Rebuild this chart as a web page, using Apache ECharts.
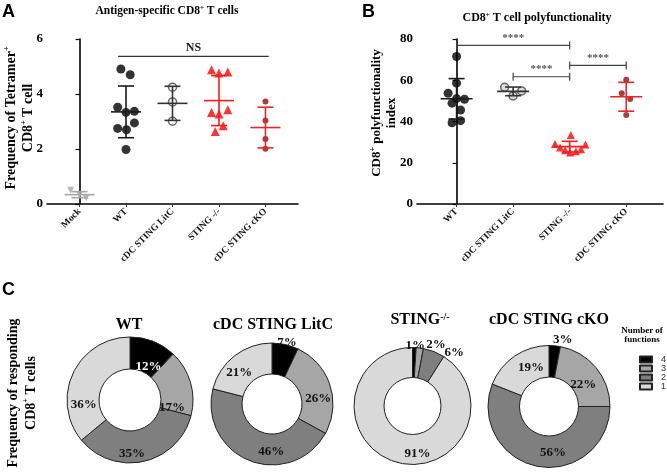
<!DOCTYPE html>
<html><head><meta charset="utf-8">
<script src="https://cdn.jsdelivr.net/npm/echarts@6/dist/echarts.min.js"></script>
<style>html,body{margin:0;padding:0;background:#fff}#c{width:667px;height:472px}</style>
</head><body><div id="c"></div>
<script>
// ---------- Panel A data ----------
const catsA = ['Mock', 'WT', 'cDC STING LitC', 'STING -/-', 'cDC STING cKO'];
const aMock = [0.50, 0.35, 0.23];
const aMockX = [-0.19, 0.0, 0.14];
const aWT = [4.91, 4.70, 3.52, 3.33, 3.37, 2.75, 2.70, 2.95, 1.98];
const aWTX = [-0.11, 0.09, -0.18, 0, 0.18, -0.18, 0.01, 0.18, 0];
const aLitC = [4.25, 3.71, 3.01];
const aLitCX = [0, 0, 0];
const aSTING = [4.88, 4.76, 4.80, 3.33, 3.27, 3.43, 2.85, 2.64];
const aSTINGX = [-0.16, 0, 0.19, -0.16, 0, 0.19, 0.09, -0.08];
const aCKO = [3.73, 3.04, 2.36, 2.01];
const aCKOX = [0, 0, 0, 0];
const aMean = [0.34, 3.35, 3.66, 3.76, 2.78];
const aSD = [0.11, 0.94, 0.62, 0.91, 0.74];
const aNS = [[0.83, 4.07, 5.37]];
const aNSText = ['NS'];

// ---------- Panel B data ----------
const catsB = ['WT', 'cDC STING LitC', 'STING -/-', 'cDC STING cKO'];
const bWT = [71.5, 58.6, 53.7, 51.1, 50.8, 48.9, 45.6, 39.4, 40.4];
const bWTX = [0, 0, -0.15, 0, 0.14, -0.08, 0.07, -0.08, 0.07];
const bLitC = [56.6, 52.4, 54.8];
const bLitCX = [-0.15, 0, 0.15];
const bSTING = [33.4, 29.1, 28.9, 27.4, 26.1, 25.0, 25.6, 26.5];
const bSTINGX = [0.02, -0.26, 0.28, -0.17, -0.08, 0.01, 0.11, 0.20];
const bCKO = [60.2, 53.7, 50.9, 43.2];
const bCKOX = [0, -0.08, 0.07, 0];
const bMean = [51.0, 54.6, 27.8, 52.0];
const bSD = [9.8, 2.1, 2.6, 7.0];
const bSig = [[0, 2, 76.9], [1, 2, 61.7], [2, 3, 67.2]];
const bSigText = ['****', '****', '****'];

// ---------- Panel C data ----------
const pieGroups = ['WT', 'cDC STING LitC', 'STING-/-', 'cDC STING cKO'];
const funcNames = ['4', '3', '2', '1'];
const pieWT = [12, 17, 35, 36];
const pieLitC = [7, 26, 46, 21];
const pieSTING = [1, 2, 6, 91];
const pieCKO = [3, 22, 56, 19];

// ---------- styles ----------
const SERIF = "'Liberation Serif','Times New Roman',serif";
const SANS = "'Liberation Sans',Arial,sans-serif";
const funcColors = ['#000000', '#a6a6a6', '#7f7f7f', '#d9d9d9'];
const errColA = ['#a6a6a6', '#1a1a1a', '#333333', '#ff1a1a', '#e8262a'];
const errColB = ['#1a1a1a', '#333333', '#ff1a1a', '#e8262a'];

const rich = (size) => ({
  n: {fontFamily: SERIF, fontWeight: 'bold', fontSize: size, color: '#000'},
  s: {fontFamily: SERIF, fontWeight: 'bold', fontSize: Math.round(size * 0.6), color: '#000', verticalAlign: 'top'}
});

function pts(vals, xs, g) { return vals.map((v, i) => [g + xs[i], v]); }

function errSeries(means, sds, colors, axisIdx, halfMean, halfCap) {
  return {
    type: 'custom', xAxisIndex: axisIdx, yAxisIndex: axisIdx, z: 5,
    data: means.map((m, i) => [i, m, sds[i]]),
    renderItem: function (params, api) {
      const x = api.value(0), m = api.value(1), s = api.value(2);
      const c = api.coord([x, m]), t = api.coord([x, m + s]), b = api.coord([x, m - s]);
      const st = {stroke: colors[params.dataIndex], lineWidth: 1.6};
      return {type: 'group', children: [
        {type: 'line', shape: {x1: c[0] - halfMean, y1: c[1], x2: c[0] + halfMean, y2: c[1]}, style: st},
        {type: 'line', shape: {x1: c[0], y1: t[1], x2: c[0], y2: b[1]}, style: st},
        {type: 'line', shape: {x1: c[0] - halfCap, y1: t[1], x2: c[0] + halfCap, y2: t[1]}, style: st},
        {type: 'line', shape: {x1: c[0] - halfCap, y1: b[1], x2: c[0] + halfCap, y2: b[1]}, style: st}
      ]};
    }
  };
}

function sigSeries(items, texts, axisIdx, tickLen, color, textColor, fontSize) {
  return {
    type: 'custom', xAxisIndex: axisIdx, yAxisIndex: axisIdx, z: 6,
    data: items,
    renderItem: function (params, api) {
      const p1 = api.coord([api.value(0), api.value(2)]);
      const p2 = api.coord([api.value(1), api.value(2)]);
      const st = {stroke: color, lineWidth: 1.2};
      const ch = [
        {type: 'line', shape: {x1: p1[0], y1: p1[1], x2: p2[0], y2: p2[1]}, style: st},
        {type: 'text', x: (p1[0] + p2[0]) / 2, y: p1[1] - 2,
          style: {text: texts[params.dataIndex], align: 'center', verticalAlign: 'bottom',
            fill: textColor, fontFamily: SERIF, fontWeight: 'bold', fontSize: fontSize}}
      ];
      if (tickLen) {
        ch.push({type: 'line', shape: {x1: p1[0], y1: p1[1] - tickLen, x2: p1[0], y2: p1[1] + tickLen}, style: st});
        ch.push({type: 'line', shape: {x1: p2[0], y1: p2[1] - tickLen, x2: p2[0], y2: p2[1] + tickLen}, style: st});
      }
      return {type: 'group', children: ch};
    }
  };
}

function valXAxis(gi, cats, max) {
  const vals = cats.map((c, i) => i);
  return {
    type: 'value', gridIndex: gi, min: -0.7, max: max,
    splitLine: {show: false},
    axisLine: {lineStyle: {color: '#000', width: 1.6}},
    axisTick: {show: true, customValues: vals, length: 3, lineStyle: {color: '#333'}},
    axisLabel: {customValues: vals, formatter: (v) => cats[Math.round(v)], rotate: 45,
      fontFamily: SERIF, fontWeight: 'bold', fontSize: 9.5, color: '#111', margin: 6}
  };
}
function valYAxis(gi, max, interval) {
  return {
    type: 'value', gridIndex: gi, min: 0, max: max, interval: interval,
    splitLine: {show: false},
    axisLine: {show: true, lineStyle: {color: '#000', width: 1.6}},
    axisTick: {show: true, length: 4, lineStyle: {color: '#000', width: 1.2}},
    axisLabel: {fontFamily: SERIF, fontWeight: 'bold', fontSize: 13, color: '#000', margin: 4}
  };
}

// pie label styling
const pieCenters = [[130, 400], [272, 404], [412.5, 406], [549, 406.5]];
const pieRadii = [[31, 63], [30, 61], [28.5, 58.5], [29.5, 61]];
const pieOutside = [[], [0], [0, 1, 2], [0]];
const pieWhite = [[0], [], [], []];
const pieLabelShift = [
  [[0, 13], [-6, 22], [-9, 5], [-1, 26]],
  [[-9, 2], [0, 10], [17, 3], [-3, 7]],
  [[-9, 2], [6, 1], [9, 5], [18, 3]],
  [[-2, -2], [-3, 9], [13, -1], [9, 1]]
];

function pieSeries(k, values) {
  return {
    type: 'pie', center: pieCenters[k], radius: pieRadii[k], startAngle: 90,
    avoidLabelOverlap: false, animation: false,
    itemStyle: {borderColor: '#222', borderWidth: 1},
    label: {position: 'inside', formatter: '{c}%', fontFamily: SERIF, fontWeight: 'bold', fontSize: 13, color: '#111'},
    labelLine: {show: false},
    labelLayout: function (p) {
      const s = pieLabelShift[k][p.dataIndex];
      return {dx: s[0], dy: s[1], hideOverlap: false};
    },
    data: values.map((v, i) => {
      const d = {name: funcNames[i], value: v, itemStyle: {color: funcColors[i]}};
      if (pieOutside[k].includes(i)) {
        d.label = {position: 'outside', distanceToLabelLine: 0};
        d.labelLine = {show: false, length: 4, length2: 0};
      }
      if (pieWhite[k].includes(i)) d.label = {color: '#fff'};
      return d;
    })
  };
}

function txt(x, y, text, size, extra) {
  return Object.assign({type: 'text', x: x, y: y, style: {
    text: text, align: 'center', verticalAlign: 'middle', fill: '#000',
    fontFamily: SERIF, fontWeight: 'bold', fontSize: size, rich: rich(size)}}, extra || {});
}
function vtxt(x, y, text, size, lh) {
  const r = rich(size); r.n.lineHeight = lh; r.s.lineHeight = lh;
  return {type: 'text', x: x, y: y, rotation: Math.PI / 2, style: {
    text: text, align: 'center', verticalAlign: 'middle', fill: '#000',
    fontFamily: SERIF, fontWeight: 'bold', fontSize: size, lineHeight: lh, rich: r}};
}

const chart = echarts.init(document.getElementById('c'));
chart.setOption({
  animation: false,
  backgroundColor: '#fff',
  grid: [
    {left: 47, top: 39, width: 251, height: 165},
    {left: 417, top: 39, width: 246, height: 165}
  ],
  xAxis: [valXAxis(0, catsA, 4.7), valXAxis(1, catsB, 3.65)],
  yAxis: [valYAxis(0, 6, 2), valYAxis(1, 80, 20)],
  legend: {
    data: funcNames, orient: 'vertical', left: 634, top: 350,
    itemWidth: 12, itemHeight: 6, itemGap: 0, icon: 'rect', selectedMode: false,
    textStyle: {fontFamily: SANS, fontSize: 9, color: '#333', lineHeight: 8, padding: [0, 0, 0, 4]}
  },
  graphic: [
    {type: 'text', x: 2, y: 3, style: {text: 'A', fontFamily: SANS, fontWeight: 'bold', fontSize: 18, fill: '#000'}},
    {type: 'text', x: 362, y: 3, style: {text: 'B', fontFamily: SANS, fontWeight: 'bold', fontSize: 18, fill: '#000'}},
    {type: 'text', x: 2, y: 281, style: {text: 'C', fontFamily: SANS, fontWeight: 'bold', fontSize: 18, fill: '#000'}},
    txt(167, 11, '{n|Antigen-specific CD8}{s|+}{n| T cells}', 11.5),
    txt(537, 18, '{n|CD8}{s|+}{n| T cell polyfunctionality}', 12),
    vtxt(20, 118, '{n|Frequency of Tetramer}{s|+}\n{n|CD8}{s|+}{n| T cell}', 14, 17),
    vtxt(384, 113, '{n|CD8}{s|+}{n| polyfunctionality}\n{n|index}', 13, 15),
    vtxt(22, 393, '{n|Frequency of responding}\n{n|CD8}{s|+}{n| T cells}', 14, 18),
    txt(129, 325, '{n|WT}', 16),
    txt(273, 325, '{n|cDC STING LitC}', 16),
    txt(420, 320, '{n|STING}{s|-/-}', 16),
    txt(549, 320, '{n|cDC STING cKO}', 16),
    txt(642, 335, '{n|Number of}\n{n|functions}', 9)
  ],
  series: [
    {type: 'scatter', xAxisIndex: 0, yAxisIndex: 0, data: pts(aMock, aMockX, 0), symbol: 'triangle', symbolRotate: 180, symbolSize: 7, itemStyle: {color: '#a6a6a6'}},
    {type: 'scatter', xAxisIndex: 0, yAxisIndex: 0, data: pts(aWT, aWTX, 1), symbol: 'circle', symbolSize: 9, itemStyle: {color: '#000'}},
    {type: 'scatter', xAxisIndex: 0, yAxisIndex: 0, data: pts(aLitC, aLitCX, 2), symbol: 'circle', symbolSize: 8, itemStyle: {color: '#fff', borderColor: '#444', borderWidth: 1.5}},
    {type: 'scatter', xAxisIndex: 0, yAxisIndex: 0, data: pts(aSTING, aSTINGX, 3), symbol: 'triangle', symbolSize: 9, itemStyle: {color: '#ff0000'}},
    {type: 'scatter', xAxisIndex: 0, yAxisIndex: 0, data: pts(aCKO, aCKOX, 4), symbol: 'circle', symbolSize: 6, itemStyle: {color: '#9a0a0a'}},
    errSeries(aMean, aSD, errColA, 0, 15, 8),
    sigSeries(aNS, aNSText, 0, 0, '#333', '#222', 12),

    {type: 'scatter', xAxisIndex: 1, yAxisIndex: 1, data: pts(bWT, bWTX, 0), symbol: 'circle', symbolSize: 9, itemStyle: {color: '#000'}},
    {type: 'scatter', xAxisIndex: 1, yAxisIndex: 1, data: pts(bLitC, bLitCX, 1), symbol: 'circle', symbolSize: 8, itemStyle: {color: '#d0d0d0', borderColor: '#444', borderWidth: 1.5}},
    {type: 'scatter', xAxisIndex: 1, yAxisIndex: 1, data: pts(bSTING, bSTINGX, 2), symbol: 'triangle', symbolSize: 8, itemStyle: {color: '#ff0000'}},
    {type: 'scatter', xAxisIndex: 1, yAxisIndex: 1, data: pts(bCKO, bCKOX, 3), symbol: 'circle', symbolSize: 6, itemStyle: {color: '#9a0a0a'}},
    errSeries(bMean, bSD, errColB, 1, 16, 8),
    sigSeries(bSig, bSigText, 1, 4, '#444', '#555', 11),

    pieSeries(0, pieWT),
    pieSeries(1, pieLitC),
    pieSeries(2, pieSTING),
    pieSeries(3, pieCKO)
  ]
});
</script>
</body></html>
